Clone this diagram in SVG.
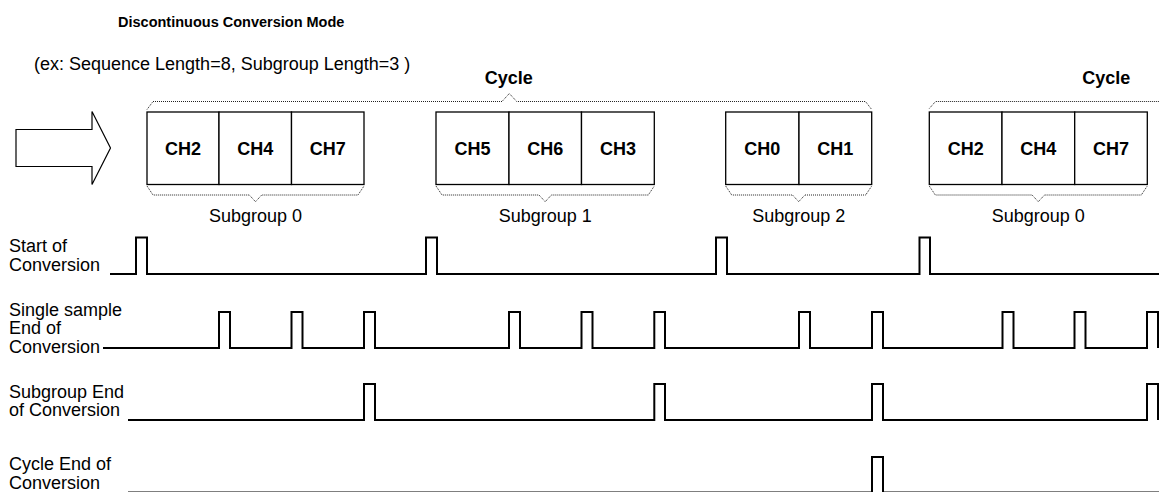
<svg xmlns="http://www.w3.org/2000/svg" width="1159" height="492" viewBox="0 0 1159 492">
<style>
text{font-family:"Liberation Sans",Arial,sans-serif;fill:#000}
.t{font-size:18px}
.b{font-size:18px;font-weight:bold}
.cell{fill:#fff;stroke:#000;stroke-width:1.3}
.brace{fill:none;stroke:#222;stroke-width:1;stroke-dasharray:1 1}
.sig{fill:none;stroke:#000;stroke-width:2;stroke-linejoin:miter}
</style>
<rect width="1159" height="492" fill="#fff"/>
<text x="118" y="27" style="font-size:14.5px;font-weight:bold">Discontinuous Conversion Mode</text>
<text x="34" y="70" class="t">(ex: Sequence Length=8, Subgroup Length=3 )</text>

<g id="arrow">
<polygon points="16,129.5 92,129.5 92,111.5 110.5,148 92,184.5 92,166.5 16,166.5" fill="#fff" stroke="#000" stroke-width="1.2"/>
</g>

<g id="cycle-braces">
<path class="brace" d="M147,109.5 L153,101.5 H502 L509.3,93.5 L516.7,101.5 H865.5 L871.7,109.5"/>
<text x="508.7" y="84" class="b" text-anchor="middle">Cycle</text>
<path class="brace" d="M929.3,108.5 L935.5,101.5 H1159"/>
<text x="1106.3" y="84" class="b" text-anchor="middle">Cycle</text>
</g>

<g id="subgroup0">
<rect class="cell" x="147" y="112" width="72" height="72.5"/>
<rect class="cell" x="219" y="112" width="72.5" height="72.5"/>
<rect class="cell" x="291.5" y="112" width="72.5" height="72.5"/>
<text x="183" y="154.5" class="b" text-anchor="middle">CH2</text>
<text x="255.3" y="154.5" class="b" text-anchor="middle">CH4</text>
<text x="327.8" y="154.5" class="b" text-anchor="middle">CH7</text>
<path class="brace" d="M147,186 L153,195 H249.3 L255.5,201.7 L261.7,195 H358 L364,186"/>
<text x="255.5" y="221.5" class="t" text-anchor="middle">Subgroup 0</text>
</g>

<g id="subgroup1">
<rect class="cell" x="436" y="112" width="73" height="72.5"/>
<rect class="cell" x="509" y="112" width="72.5" height="72.5"/>
<rect class="cell" x="581.5" y="112" width="72.8" height="72.5"/>
<text x="472.5" y="154.5" class="b" text-anchor="middle">CH5</text>
<text x="545.3" y="154.5" class="b" text-anchor="middle">CH6</text>
<text x="618" y="154.5" class="b" text-anchor="middle">CH3</text>
<path class="brace" d="M436,186 L442,195 H539 L545.2,201.7 L551.4,195 H648.3 L654.3,186"/>
<text x="545.2" y="221.5" class="t" text-anchor="middle">Subgroup 1</text>
</g>

<g id="subgroup2">
<rect class="cell" x="725.7" y="112" width="73.3" height="72.5"/>
<rect class="cell" x="799" y="112" width="72.7" height="72.5"/>
<text x="762.3" y="154.5" class="b" text-anchor="middle">CH0</text>
<text x="835.3" y="154.5" class="b" text-anchor="middle">CH1</text>
<path class="brace" d="M725.7,186 L731.7,195 H792.5 L798.7,201.7 L804.9,195 H865.7 L871.7,186"/>
<text x="798.7" y="221.5" class="t" text-anchor="middle">Subgroup 2</text>
</g>

<g id="subgroup0b">
<rect class="cell" x="929.3" y="112" width="72.7" height="72.5"/>
<rect class="cell" x="1002" y="112" width="72.7" height="72.5"/>
<rect class="cell" x="1074.7" y="112" width="72.6" height="72.5"/>
<text x="965.7" y="154.5" class="b" text-anchor="middle">CH2</text>
<text x="1038.3" y="154.5" class="b" text-anchor="middle">CH4</text>
<text x="1111" y="154.5" class="b" text-anchor="middle">CH7</text>
<path class="brace" d="M929.3,186 L935.3,195 H1032.1 L1038.3,201.7 L1044.5,195 H1141.3 L1147.3,186"/>
<text x="1038.3" y="221.5" class="t" text-anchor="middle">Subgroup 0</text>
</g>

<g id="labels">
<text x="9" y="251.5" class="t">Start of</text>
<text x="9" y="271" class="t">Conversion</text>
<text x="9" y="315.5" class="t">Single sample</text>
<text x="9" y="334" class="t">End of</text>
<text x="9" y="352.5" class="t">Conversion</text>
<text x="9" y="397.5" class="t">Subgroup End</text>
<text x="9" y="416" class="t">of Conversion</text>
<text x="9" y="470" class="t">Cycle End of</text>
<text x="9" y="488.5" class="t">Conversion</text>
</g>

<g id="connectors">
<path id="soc" class="sig" d="M110,274 H136 V237.5 H147 V274 H426 V237.5 H437 V274 H716 V237.5 H727 V274 H919.5 V237.5 H930 V274 H1159"/>
<path id="ss-eoc" class="sig" d="M103,348 H219 V312 H230 V348 H291.5 V312 H302.5 V348 H364 V312 H375 V348 H509 V312 H520 V348 H581.5 V312 H592.5 V348 H654.3 V312 H665 V348 H799 V312 H810 V348 H872 V312 H883 V348 H1002.5 V312 H1013.5 V348 H1074.5 V312 H1085.5 V348 H1147 V312 H1158 V348"/>
<path id="sg-eoc" class="sig" d="M128,420 H364 V384 H375 V420 H654.3 V384 H665 V420 H872 V384 H883 V420 H1147 V384 H1158 V420"/>
<path id="cycle-eoc" class="sig" d="M128,492.6 H872 V457 H883 V492.6 H1159"/>
</g>
</svg>
